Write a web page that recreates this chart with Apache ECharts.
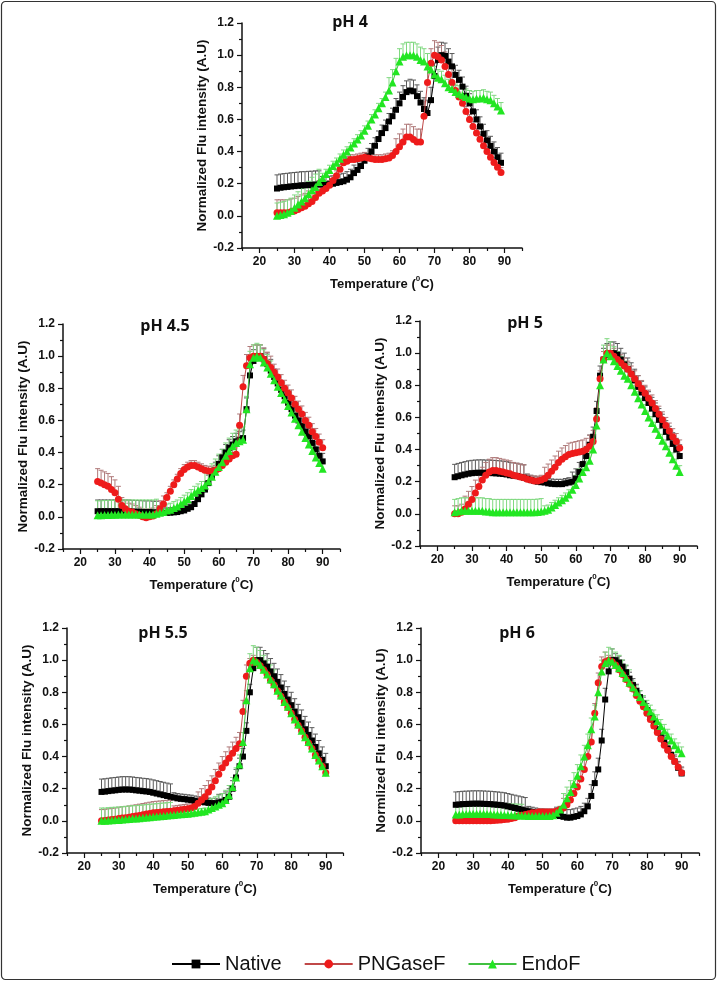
<!DOCTYPE html>
<html>
<head>
<meta charset="utf-8">
<script src="https://cdn.jsdelivr.net/npm/echarts@6/dist/echarts.min.js"></script>
<style>
html,body{margin:0;padding:0;background:#fff;}
#chart{width:718px;height:982px;}
</style>
</head>
<body>
<div id="chart"></div>
<script>
// ---------------- DATA ----------------
const seriesNames = ['Native', 'PNGaseF', 'EndoF'];
const panelTitles = ['pH 4', 'pH 4.5', 'pH 5', 'pH 5.5', 'pH 6'];
const yAxisTitles = ['Normalized Flu intensity (A.U)', 'Normalized Flu intensity (A.U)', 'Normalized Flu intensity (A.U)', 'Normalized Flu intensity (A.U)', 'Normlized Flu intensity (A.U)'];
const xTickLabels = [20, 30, 40, 50, 60, 70, 80, 90];
const xMinorTicks = [15, 25, 35, 45, 55, 65, 75, 85, 95];

const tempsA = [25,26,27,28,29,30,31,32,33,34,35,36,37,38,39,40,41,42,43,44,45,46,47,48,49,50,51,52,53,54,55,56,57,58,59,60,61,62,63,64,65,66,67,68,69,70,71,72,73,74,75,76,77,78,79,80,81,82,83,84,85,86,87,88,89];
const tempsB = [25,26,27,28,29,30,31,32,33,34,35,36,37,38,39,40,41,42,43,44,45,46,47,48,49,50,51,52,53,54,55,56,57,58,59,60,61,62,63,64,65,66,67,68,69,70,71,72,73,74,75,76,77,78,79,80,81,82,83,84,85,86,87,88,89,90];

// pH 4
const native4 = [0.17,0.175,0.178,0.18,0.183,0.185,0.187,0.19,0.19,0.192,0.193,0.195,0.195,0.195,0.195,0.197,0.2,0.205,0.21,0.215,0.225,0.24,0.266,0.286,0.31,0.343,0.37,0.4,0.436,0.478,0.515,0.546,0.587,0.62,0.66,0.7,0.74,0.77,0.78,0.775,0.745,0.705,0.665,0.64,0.72,0.87,0.97,1.0,0.995,0.96,0.93,0.877,0.846,0.804,0.747,0.7,0.65,0.6,0.556,0.51,0.47,0.435,0.4,0.365,0.33];
const png4 = [0.02,0.02,0.02,0.02,0.025,0.03,0.04,0.05,0.06,0.075,0.09,0.115,0.14,0.155,0.17,0.19,0.22,0.25,0.29,0.33,0.34,0.35,0.35,0.355,0.36,0.365,0.36,0.355,0.35,0.35,0.35,0.355,0.36,0.375,0.4,0.43,0.46,0.49,0.49,0.475,0.46,0.46,0.62,0.83,0.95,1.0,0.99,0.97,0.93,0.88,0.83,0.78,0.74,0.7,0.65,0.6,0.556,0.515,0.477,0.436,0.4,0.365,0.332,0.303,0.27];
const endo4 = [0,0.005,0.01,0.02,0.03,0.05,0.07,0.09,0.11,0.135,0.16,0.18,0.21,0.235,0.26,0.285,0.31,0.33,0.355,0.38,0.4,0.425,0.45,0.475,0.5,0.53,0.56,0.6,0.63,0.67,0.7,0.74,0.78,0.83,0.9,0.96,0.99,1.0,1.0,1.0,0.99,0.97,0.96,0.93,0.91,0.88,0.86,0.85,0.825,0.8,0.79,0.77,0.76,0.75,0.74,0.73,0.725,0.73,0.73,0.735,0.725,0.72,0.7,0.68,0.655];
const errNative4 = [0.085,0.085,0.085,0.085,0.085,0.085,0.085,0.085,0.085,0.085,0.085,0.085,0.085,0.05,0.05,0.05,0.05,0.05,0.05,0.05,0.05,0.05,0.05,0.05,0.05,0.05,0.05,0.05,0.05,0.05,0.05,0.05,0.05,0.05,0.07,0.07,0.07,0.07,0.07,0.07,0.07,0.07,0.07,0.08,0.08,0.08,0.08,0.08,0.08,0.08,0.08,0.06,0.06,0.06,0.06,0.06,0.06,0.06,0.06,0.06,0.06,0.06,0.06,0.06,0.06];
const errPng4 = [0.08,0.08,0.08,0.08,0.08,0.08,0.08,0.08,0.08,0.08,0.08,0.08,0.08,0.03,0.03,0.03,0.03,0.03,0.03,0.03,0.03,0.03,0.03,0.03,0.03,0.03,0.03,0.03,0.03,0.03,0.03,0.03,0.03,0.03,0.08,0.08,0.08,0.08,0.08,0.08,0.08,0.08,0.09,0.09,0.09,0.09,0.09,0.09,0.09,0.09,0.09,0.03,0.03,0.03,0.03,0.03,0.03,0.03,0.03,0.03,0.03,0.03,0.03,0.03,0.03];
const errEndo4 = [0.08,0.08,0.08,0.08,0.08,0.08,0.08,0.08,0.08,0.08,0.08,0.08,0.08,0.03,0.03,0.03,0.03,0.03,0.03,0.03,0.03,0.03,0.03,0.03,0.03,0.03,0.03,0.03,0.03,0.03,0.03,0.03,0.08,0.08,0.08,0.08,0.08,0.08,0.08,0.08,0.08,0.08,0.08,0.08,0.05,0.05,0.05,0.05,0.05,0.05,0.05,0.05,0.05,0.05,0.05,0.05,0.05,0.05,0.05,0.05,0.05,0.05,0.05,0.05,0.05];

// pH 4.5
const native45 = [0.035,0.035,0.035,0.035,0.035,0.035,0.035,0.035,0.035,0.035,0.033,0.032,0.032,0.03,0.03,0.03,0.028,0.027,0.026,0.025,0.025,0.026,0.028,0.03,0.035,0.04,0.05,0.06,0.08,0.11,0.14,0.17,0.21,0.25,0.29,0.33,0.37,0.4,0.43,0.45,0.47,0.48,0.49,0.67,0.88,0.97,1.0,1.0,0.98,0.95,0.91,0.87,0.83,0.79,0.75,0.71,0.67,0.63,0.6,0.565,0.53,0.5,0.46,0.42,0.38,0.345];
const png45 = [0.22,0.21,0.2,0.19,0.17,0.15,0.11,0.07,0.05,0.035,0.03,0.02,0.01,0,-0.005,0,0.005,0.02,0.05,0.08,0.12,0.16,0.2,0.235,0.27,0.295,0.31,0.32,0.32,0.31,0.3,0.29,0.285,0.285,0.29,0.3,0.32,0.34,0.36,0.38,0.39,0.57,0.81,0.94,0.99,1.0,1.0,1.0,0.98,0.955,0.93,0.9,0.87,0.835,0.8,0.77,0.74,0.7,0.67,0.64,0.6,0.57,0.53,0.5,0.465,0.43];
const endo45 = [0.01,0.01,0.012,0.012,0.013,0.013,0.014,0.015,0.015,0.015,0.015,0.015,0.015,0.015,0.015,0.015,0.015,0.02,0.025,0.03,0.04,0.045,0.055,0.065,0.08,0.095,0.11,0.13,0.15,0.165,0.18,0.195,0.22,0.25,0.28,0.31,0.34,0.38,0.41,0.44,0.46,0.47,0.48,0.67,0.95,0.99,1.0,0.99,0.96,0.93,0.89,0.85,0.81,0.77,0.73,0.69,0.65,0.61,0.57,0.53,0.49,0.45,0.41,0.37,0.335,0.3];
const errNative45 = [0.07,0.07,0.07,0.07,0.07,0.07,0.07,0.07,0.07,0.07,0.07,0.07,0.07,0.07,0.07,0.07,0.07,0.07,0.03,0.03,0.03,0.03,0.03,0.03,0.03,0.03,0.03,0.03,0.03,0.03,0.03,0.05,0.05,0.05,0.05,0.05,0.05,0.05,0.05,0.05,0.05,0.05,0.05,0.07,0.07,0.07,0.07,0.07,0.07,0.07,0.07,0.05,0.05,0.05,0.05,0.05,0.05,0.05,0.05,0.05,0.05,0.05,0.05,0.05,0.05,0.05];
const errPng45 = [0.08,0.08,0.08,0.08,0.08,0.08,0.08,0.05,0.05,0.05,0.05,0.05,0.05,0.05,0.05,0.05,0.05,0.05,0.05,0.05,0.03,0.03,0.03,0.03,0.03,0.03,0.03,0.03,0.03,0.03,0.03,0.03,0.03,0.03,0.03,0.03,0.07,0.07,0.07,0.07,0.07,0.07,0.07,0.07,0.07,0.07,0.07,0.07,0.07,0.07,0.07,0.05,0.05,0.05,0.05,0.05,0.05,0.05,0.05,0.05,0.05,0.05,0.05,0.05,0.05,0.05];
const errEndo45 = [0.09,0.09,0.09,0.09,0.09,0.09,0.09,0.09,0.09,0.09,0.09,0.09,0.09,0.09,0.09,0.09,0.09,0.09,0.04,0.04,0.04,0.04,0.04,0.04,0.04,0.04,0.04,0.04,0.04,0.04,0.04,0.08,0.08,0.08,0.08,0.08,0.08,0.08,0.08,0.08,0.08,0.08,0.08,0.08,0.08,0.08,0.08,0.08,0.08,0.08,0.08,0.04,0.04,0.04,0.04,0.04,0.04,0.04,0.04,0.04,0.04,0.04,0.04,0.04,0.04,0.04];

// pH 5
const native5 = [0.228,0.234,0.24,0.245,0.25,0.253,0.255,0.256,0.256,0.255,0.255,0.253,0.252,0.25,0.248,0.245,0.24,0.237,0.235,0.23,0.225,0.218,0.21,0.205,0.2,0.197,0.195,0.19,0.187,0.185,0.185,0.185,0.19,0.195,0.2,0.22,0.26,0.31,0.36,0.43,0.48,0.64,0.86,0.96,0.99,1.0,1.0,0.99,0.96,0.93,0.9,0.87,0.83,0.79,0.755,0.72,0.69,0.655,0.62,0.585,0.55,0.51,0.475,0.435,0.4,0.36];
const png5 = [0,0,0.01,0.03,0.06,0.09,0.13,0.17,0.21,0.24,0.26,0.27,0.27,0.265,0.26,0.255,0.25,0.24,0.235,0.23,0.225,0.215,0.21,0.205,0.205,0.21,0.22,0.24,0.265,0.29,0.32,0.34,0.355,0.37,0.375,0.38,0.385,0.39,0.4,0.42,0.45,0.59,0.84,0.96,1.0,1.0,0.98,0.96,0.94,0.92,0.9,0.87,0.84,0.81,0.78,0.75,0.72,0.69,0.655,0.62,0.585,0.55,0.515,0.48,0.45,0.41];
const endo5 = [0.01,0.015,0.02,0.02,0.02,0.02,0.02,0.02,0.02,0.015,0.015,0.01,0.01,0.01,0.01,0.01,0.01,0.01,0.01,0.01,0.01,0.01,0.01,0.01,0.012,0.015,0.02,0.025,0.04,0.055,0.07,0.085,0.1,0.12,0.15,0.18,0.22,0.26,0.29,0.33,0.4,0.55,0.8,0.96,1.0,0.98,0.95,0.92,0.89,0.86,0.84,0.8,0.76,0.72,0.68,0.64,0.6,0.565,0.53,0.49,0.455,0.42,0.38,0.34,0.3,0.26];
const errNative5 = [0.08,0.08,0.08,0.08,0.08,0.08,0.08,0.08,0.08,0.08,0.08,0.08,0.08,0.08,0.08,0.08,0.08,0.08,0.08,0.08,0.08,0.03,0.03,0.03,0.03,0.03,0.03,0.03,0.03,0.03,0.03,0.03,0.03,0.03,0.06,0.06,0.06,0.06,0.06,0.06,0.06,0.06,0.06,0.07,0.07,0.07,0.07,0.07,0.07,0.07,0.07,0.07,0.07,0.07,0.07,0.07,0.07,0.07,0.07,0.07,0.07,0.07,0.07,0.07,0.07,0.07];
const errPng5 = [0.05,0.05,0.05,0.08,0.08,0.08,0.08,0.08,0.08,0.08,0.08,0.08,0.08,0.08,0.08,0.08,0.08,0.08,0.08,0.08,0.08,0.03,0.03,0.03,0.03,0.03,0.07,0.07,0.07,0.07,0.07,0.07,0.07,0.07,0.07,0.07,0.07,0.07,0.07,0.07,0.07,0.07,0.05,0.05,0.05,0.05,0.05,0.05,0.05,0.05,0.05,0.05,0.05,0.05,0.05,0.05,0.05,0.05,0.05,0.05,0.05,0.05,0.05,0.05,0.05,0.05];
const errEndo5 = [0.08,0.08,0.08,0.08,0.08,0.08,0.08,0.08,0.08,0.08,0.08,0.08,0.08,0.08,0.08,0.08,0.08,0.08,0.08,0.08,0.08,0.08,0.08,0.08,0.08,0.08,0.03,0.03,0.03,0.03,0.03,0.03,0.03,0.03,0.06,0.06,0.06,0.06,0.06,0.06,0.06,0.06,0.06,0.09,0.09,0.09,0.09,0.09,0.09,0.09,0.09,0.04,0.04,0.04,0.04,0.04,0.04,0.04,0.04,0.04,0.04,0.04,0.04,0.04,0.04,0.04];

// pH 5.5
const native55 = [0.18,0.182,0.185,0.188,0.19,0.193,0.195,0.195,0.195,0.193,0.19,0.188,0.185,0.183,0.18,0.175,0.17,0.165,0.16,0.155,0.15,0.145,0.14,0.137,0.135,0.132,0.13,0.125,0.12,0.118,0.115,0.112,0.11,0.11,0.115,0.12,0.13,0.15,0.2,0.27,0.34,0.4,0.56,0.8,0.95,1.0,1.0,0.98,0.96,0.93,0.9,0.865,0.83,0.79,0.755,0.72,0.68,0.645,0.61,0.57,0.535,0.5,0.46,0.42,0.38,0.34];
const png55 = [0,0.002,0.005,0.008,0.01,0.015,0.018,0.02,0.023,0.027,0.03,0.034,0.038,0.042,0.046,0.05,0.052,0.054,0.056,0.058,0.06,0.063,0.066,0.069,0.072,0.075,0.08,0.09,0.11,0.13,0.15,0.18,0.21,0.25,0.29,0.33,0.36,0.39,0.42,0.45,0.48,0.68,0.9,0.98,1.0,0.985,0.965,0.94,0.91,0.875,0.845,0.81,0.775,0.74,0.705,0.67,0.63,0.595,0.56,0.52,0.485,0.45,0.41,0.375,0.34,0.3];
const endo55 = [0,0,0.002,0.004,0.005,0.006,0.008,0.01,0.012,0.014,0.015,0.017,0.019,0.021,0.023,0.025,0.027,0.029,0.031,0.033,0.035,0.037,0.039,0.041,0.043,0.045,0.048,0.051,0.054,0.057,0.06,0.07,0.08,0.09,0.1,0.11,0.13,0.16,0.21,0.27,0.35,0.49,0.75,0.95,1.0,0.99,0.97,0.94,0.91,0.88,0.85,0.81,0.78,0.74,0.71,0.67,0.63,0.6,0.56,0.52,0.49,0.45,0.41,0.375,0.34,0.3];
const errNative55 = [0.08,0.08,0.08,0.08,0.08,0.08,0.08,0.08,0.08,0.08,0.08,0.08,0.08,0.08,0.08,0.08,0.08,0.08,0.08,0.08,0.08,0.03,0.03,0.03,0.03,0.03,0.03,0.03,0.03,0.03,0.03,0.03,0.03,0.03,0.05,0.05,0.05,0.05,0.05,0.05,0.05,0.05,0.05,0.05,0.05,0.08,0.08,0.08,0.08,0.08,0.08,0.08,0.08,0.08,0.08,0.08,0.08,0.08,0.08,0.08,0.08,0.08,0.08,0.08,0.08,0.08];
const errPng55 = [0.07,0.07,0.07,0.07,0.07,0.07,0.07,0.07,0.07,0.07,0.07,0.07,0.07,0.07,0.07,0.07,0.07,0.07,0.07,0.07,0.07,0.03,0.03,0.03,0.03,0.03,0.03,0.03,0.07,0.07,0.07,0.07,0.07,0.07,0.07,0.07,0.07,0.07,0.07,0.07,0.07,0.07,0.07,0.03,0.03,0.03,0.03,0.03,0.03,0.03,0.03,0.03,0.03,0.03,0.03,0.03,0.03,0.03,0.03,0.03,0.03,0.03,0.03,0.03,0.03,0.03];
const errEndo55 = [0.08,0.08,0.08,0.08,0.08,0.08,0.08,0.08,0.08,0.08,0.08,0.08,0.08,0.08,0.08,0.08,0.08,0.08,0.08,0.08,0.08,0.02,0.02,0.02,0.02,0.02,0.02,0.02,0.02,0.02,0.02,0.06,0.06,0.06,0.06,0.06,0.06,0.06,0.06,0.06,0.06,0.06,0.06,0.09,0.09,0.09,0.09,0.09,0.09,0.09,0.09,0.03,0.03,0.03,0.03,0.03,0.03,0.03,0.03,0.03,0.03,0.03,0.03,0.03,0.03,0.03];

// pH 6
const native6 = [0.1,0.102,0.104,0.105,0.106,0.107,0.107,0.107,0.106,0.105,0.104,0.102,0.1,0.098,0.095,0.09,0.085,0.08,0.075,0.07,0.065,0.06,0.055,0.05,0.047,0.045,0.042,0.04,0.037,0.035,0.03,0.025,0.02,0.02,0.025,0.03,0.04,0.06,0.09,0.155,0.235,0.32,0.5,0.755,0.93,1.0,1.0,0.985,0.96,0.925,0.885,0.845,0.81,0.77,0.73,0.69,0.65,0.61,0.57,0.53,0.49,0.45,0.41,0.37,0.33,0.295];
const png6 = [0,0,0,0,0,0,0,0,0,0,0,0.002,0.004,0.006,0.008,0.01,0.015,0.02,0.03,0.035,0.04,0.045,0.05,0.05,0.055,0.055,0.055,0.055,0.055,0.06,0.07,0.08,0.1,0.13,0.17,0.21,0.26,0.32,0.4,0.49,0.67,0.86,0.96,0.99,1.0,0.99,0.97,0.94,0.91,0.88,0.85,0.82,0.78,0.745,0.71,0.67,0.63,0.59,0.55,0.51,0.47,0.44,0.4,0.37,0.335,0.3];
const endo6 = [0.04,0.04,0.042,0.043,0.045,0.045,0.045,0.045,0.044,0.043,0.042,0.04,0.04,0.038,0.037,0.036,0.035,0.035,0.034,0.033,0.032,0.031,0.03,0.03,0.03,0.03,0.03,0.031,0.035,0.05,0.07,0.1,0.14,0.18,0.23,0.28,0.34,0.4,0.47,0.57,0.65,0.8,0.93,0.98,1.0,0.99,0.97,0.95,0.92,0.89,0.86,0.83,0.8,0.77,0.74,0.71,0.68,0.65,0.62,0.59,0.56,0.53,0.5,0.47,0.445,0.42];
const errNative6 = [0.08,0.08,0.08,0.08,0.08,0.08,0.08,0.08,0.08,0.08,0.08,0.08,0.08,0.08,0.08,0.08,0.08,0.08,0.08,0.08,0.08,0.03,0.03,0.03,0.03,0.03,0.03,0.03,0.03,0.05,0.05,0.05,0.05,0.05,0.05,0.05,0.05,0.05,0.05,0.07,0.07,0.07,0.07,0.07,0.07,0.07,0.04,0.04,0.04,0.04,0.04,0.04,0.04,0.04,0.04,0.04,0.04,0.04,0.04,0.04,0.04,0.04,0.04,0.04,0.04,0.04];
const errPng6 = [0.01,0.01,0.01,0.01,0.01,0.01,0.01,0.01,0.01,0.01,0.01,0.01,0.01,0.01,0.01,0.01,0.01,0.01,0.01,0.01,0.02,0.02,0.02,0.02,0.02,0.02,0.02,0.02,0.02,0.02,0.02,0.06,0.06,0.06,0.06,0.06,0.06,0.06,0.06,0.06,0.06,0.06,0.06,0.06,0.03,0.03,0.03,0.03,0.03,0.03,0.03,0.03,0.03,0.03,0.03,0.03,0.03,0.03,0.03,0.03,0.03,0.03,0.03,0.03,0.03,0.03];
const errEndo6 = [0.07,0.07,0.07,0.07,0.07,0.07,0.07,0.07,0.07,0.07,0.07,0.07,0.07,0.07,0.07,0.07,0.07,0.07,0.07,0.07,0.02,0.02,0.02,0.02,0.02,0.02,0.02,0.02,0.02,0.02,0.02,0.07,0.07,0.07,0.07,0.07,0.07,0.07,0.07,0.07,0.07,0.07,0.07,0.07,0.08,0.08,0.08,0.08,0.08,0.08,0.08,0.04,0.04,0.04,0.04,0.04,0.04,0.04,0.04,0.04,0.04,0.04,0.04,0.04,0.04,0.04];

// ---------------- LAYOUT / STYLE ----------------
const panels = [
  {temps: tempsA, vals: [native4, png4, endo4], errs: [errNative4, errPng4, errEndo4], grid: {left: 242, top: 23, width: 280, height: 225}, title: [350, 22]},
  {temps: tempsB, vals: [native45, png45, endo45], errs: [errNative45, errPng45, errEndo45], grid: {left: 63, top: 324, width: 277, height: 225}, title: [165, 326]},
  {temps: tempsB, vals: [native5, png5, endo5], errs: [errNative5, errPng5, errEndo5], grid: {left: 420, top: 321, width: 277, height: 225}, title: [525, 323]},
  {temps: tempsB, vals: [native55, png55, endo55], errs: [errNative55, errPng55, errEndo55], grid: {left: 67, top: 628, width: 276, height: 225}, title: [163, 633]},
  {temps: tempsB, vals: [native6, png6, endo6], errs: [errNative6, errPng6, errEndo6], grid: {left: 421, top: 628, width: 278, height: 225}, title: [517, 633]}
];

const markerColors = ['#000000', '#ee1b1b', '#22e622'];
const lineColors = ['#000000', '#c04848', '#40c040'];
const errColors = ['#5a5a5a', '#b07a7a', '#80d880'];
const symbols = ['rect', 'circle', 'triangle'];
const symbolSizes = [6, 7, 8];
const FONT = "'Liberation Sans', Arial, sans-serif";

const grids = [], xAxes = [], yAxes = [], series = [];

panels.forEach((p, i) => {
  grids.push(Object.assign({containLabel: false}, p.grid));
  xAxes.push({
    type: 'value', gridIndex: i, min: 15, max: 95,
    name: '{a|Temperature (}{s|0}{a|C)}',
    nameLocation: 'middle', nameGap: 27,
    nameTextStyle: {rich: {
      a: {fontFamily: FONT, fontWeight: 'bold', fontSize: 13, color: '#111', lineHeight: 16, verticalAlign: 'bottom'},
      s: {fontFamily: FONT, fontWeight: 'bold', fontSize: 8, color: '#111', lineHeight: 16, verticalAlign: 'top'}
    }},
    axisLine: {show: true, onZero: false, lineStyle: {color: '#111', width: 1.5}},
    axisTick: {show: true, inside: false, length: 5, customValues: xTickLabels, lineStyle: {color: '#111', width: 1.2}},
    axisLabel: {show: true, customValues: xTickLabels, margin: 8, fontFamily: FONT, fontWeight: 'bold', fontSize: 12, color: '#111'},
    splitLine: {show: false}
  });
  xAxes.push({
    type: 'value', gridIndex: i, min: 15, max: 95, position: 'bottom',
    axisLine: {show: false, onZero: false},
    axisTick: {show: true, inside: false, length: 3, customValues: xMinorTicks, lineStyle: {color: '#111', width: 1.2}},
    axisLabel: {show: false},
    splitLine: {show: false}
  });
  yAxes.push({
    type: 'value', gridIndex: i, min: -0.2, max: 1.2, interval: 0.2,
    name: yAxisTitles[i], nameLocation: 'middle', nameGap: 31, nameRotate: 90,
    nameTextStyle: {fontFamily: FONT, fontWeight: 'bold', fontSize: 13.5, color: '#111'},
    axisLine: {show: true, onZero: false, lineStyle: {color: '#111', width: 1.5}},
    axisTick: {show: true, inside: false, length: 5, lineStyle: {color: '#111', width: 1.2}},
    minorTick: {show: true, splitNumber: 2, length: 3, lineStyle: {color: '#111', width: 1.2}},
    axisLabel: {margin: 8, fontFamily: FONT, fontWeight: 'bold', fontSize: 12, color: '#111',
      formatter: v => (Math.abs(v) < 1e-9 ? 0 : v).toFixed(1)},
    splitLine: {show: false}
  });

  for (let k = 0; k < 3; k++) {
    const col = errColors[k];
    series.push({
      type: 'custom', name: 'err' + seriesNames[k], xAxisIndex: 2 * i, yAxisIndex: i, z: 1,
      data: p.temps.map((t, j) => [t, p.vals[k][j], p.errs[k][j]]),
      encode: {x: 0, y: 1},
      renderItem: (params, api) => {
        const x = api.value(0), y = api.value(1), e = api.value(2);
        const a = api.coord([x, y]);
        const b = api.coord([x, y + e]);
        return {type: 'group', children: [
          {type: 'line', shape: {x1: a[0], y1: a[1], x2: b[0], y2: b[1]}, style: {stroke: col, lineWidth: 1}},
          {type: 'line', shape: {x1: b[0] - 2.5, y1: b[1], x2: b[0] + 2.5, y2: b[1]}, style: {stroke: col, lineWidth: 1}}
        ]};
      },
      silent: true
    });
  }
  for (let k = 0; k < 3; k++) {
    series.push({
      type: 'line', name: seriesNames[k], xAxisIndex: 2 * i, yAxisIndex: i, z: 2 + k,
      data: p.temps.map((t, j) => [t, p.vals[k][j]]),
      symbol: symbols[k], symbolSize: symbolSizes[k], showAllSymbol: true,
      itemStyle: {color: markerColors[k], borderWidth: 0},
      lineStyle: {color: lineColors[k], width: 1},
      emphasis: {disabled: true}
    });
  }
});

const titleGraphics = panels.map((p, i) => ({
  type: 'text', x: p.title[0], y: p.title[1],
  style: {text: panelTitles[i], fill: '#111', font: "bold 16px 'Open Sans', sans-serif", align: 'center', verticalAlign: 'middle'}
}));

const frame = {
  type: 'rect', shape: {x: 1.5, y: 1.5, width: 714, height: 978, r: 4},
  style: {fill: null, stroke: '#333', lineWidth: 1.2}, silent: true, z: 0
};

const chart = echarts.init(document.getElementById('chart'), null, {renderer: 'canvas'});
chart.setOption({
  animation: false,
  backgroundColor: '#fff',
  grid: grids,
  xAxis: xAxes,
  yAxis: yAxes,
  series: series,
  legend: {
    data: seriesNames, left: 166, top: 949, itemWidth: 48, itemHeight: 11, itemGap: 22,
    textStyle: {fontFamily: FONT, fontSize: 20, color: '#111'},
    selectedMode: false
  },
  graphic: {elements: [frame].concat(titleGraphics)}
});
</script>
</body>
</html>
